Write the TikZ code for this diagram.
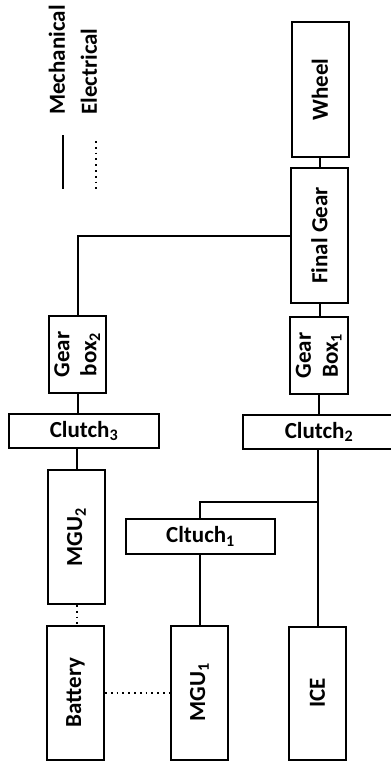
\documentclass[tikz,border=0pt]{standalone}
\usepackage{fontspec}
\setmainfont{Carlito}
\begin{document}
\begin{tikzpicture}[x=1pt,y=-1pt,
  txt/.style={font=\bfseries\fontsize{23}{27}\selectfont},
  box/.style={draw,line width=2pt,fill=white,inner sep=0pt,txt},
  vbox/.style={box,minimum width=57pt,minimum height=135pt},
  hbox/.style={box,minimum width=150pt,minimum height=34pt},
  mech/.style={line width=2pt},
  elec/.style={line width=2pt,dash pattern=on 1.8pt off 4pt}]
\useasboundingbox (0,0) rectangle (391,761);
% legend
\node[rotate=90,anchor=west,inner sep=0pt,txt] (lm) at (57,115) {Mechanical};
\node[rotate=90,anchor=west,inner sep=0pt,txt] (le) at (89,115) {Electrical};
\coordinate (m1) at (63,135); \coordinate (m2) at (63,189);
\coordinate (e1) at (96,141); \coordinate (e2) at (96,190);
\draw[mech] (m1) -- (m2);
\draw[elec] (e1) -- (e2);
% boxes
\node[vbox] (wheel) at (320,89.5) {\rotatebox{90}{Wheel}};
\node[vbox] (final) at (319.5,235.5) {\rotatebox{90}{Final Gear}};
\node[vbox,minimum height=77pt,minimum width=58pt] (gb1) at (319,355.5) {\rotatebox{90}{\begin{tabular}{@{}c@{}}Gear\\Box\textsubscript{1}\end{tabular}}};
\node[hbox,minimum width=152pt] (cl2) at (319,432) {Clutch\textsubscript{2}};
\node[vbox,minimum height=77pt] (gb2) at (77.5,354.5) {\rotatebox{90}{\begin{tabular}{@{}c@{}}Gear\\box\textsubscript{2}\end{tabular}}};
\node[hbox] (cl3) at (84,431) {Clutch\textsubscript{3}};
\node[vbox,minimum height=134pt] (mgu2) at (76.5,537) {\rotatebox{90}{MGU\textsubscript{2}}};
\node[vbox,minimum height=134pt] (bat) at (75.5,692.5) {\rotatebox{90}{Battery}};
\node[vbox,minimum height=134pt] (mgu1) at (199.5,692.5) {\rotatebox{90}{MGU\textsubscript{1}}};
\node[vbox,minimum height=133pt] (ice) at (317.5,693) {\rotatebox{90}{ICE}};
\node[hbox,minimum width=149pt,minimum height=35pt] (cl1) at (200.5,536.5) {Cltuch\textsubscript{1}};
% mechanical connectors
\draw[mech] (wheel.south) -- (wheel.south |- final.north);
\draw[mech] (final.south) -- (final.south |- gb1.north);
\draw[mech] (gb1.south) -- (gb1.south |- cl2.north);
\draw[mech] (final.west) -| (gb2.north);
\draw[mech] (gb2.south) -- (gb2.south |- cl3.north);
\draw[mech] (cl3.south -| mgu2.north) -- (mgu2.north);
\coordinate (br) at (318,502);
\draw[mech] (cl2.south -| br) -- (br |- ice.north);
\draw[mech] (br) -| (cl1.north -| mgu1.north);
\draw[mech] (cl1.south -| mgu1.north) -- (mgu1.north);
% electrical connectors
\draw[elec] (mgu2.south) -- (mgu2.south |- bat.north);
\draw[elec] (bat.east) -- (mgu1.west);
\end{tikzpicture}
\end{document}
